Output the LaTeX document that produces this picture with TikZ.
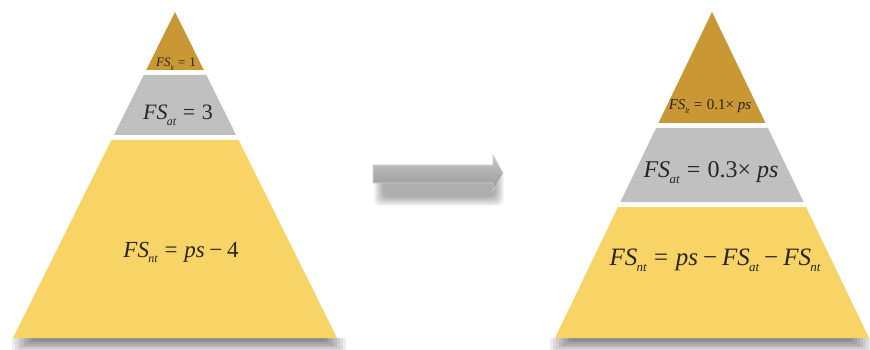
\documentclass[tikz,border=0pt]{standalone}
\usepackage{fontspec}
\setmainfont{Liberation Serif}
\definecolor{goldtop}{RGB}{201,151,52}
\definecolor{grayband}{RGB}{192,192,192}
\definecolor{yelband}{RGB}{248,212,102}
\definecolor{arrowgray}{RGB}{152,152,152}
\newcommand\FSs[2]{\textit{FS}\kern-0.03em\raisebox{-0.55ex}{\fontsize{#1}{#1}\selectfont\itshape #2}}
\newcommand\sz[1]{\fontsize{#1}{#1}\selectfont}
\newcommand\eqs{\hspace{0.3em}=\hspace{0.3em}}
\newcommand\mns{\hspace{0.2em}−\hspace{0.2em}}
\tikzset{
  eq/.style={inner sep=0pt, anchor=base, text=black!85},
  blur/.style={fill=black, opacity=0.07},
}
\begin{document}
\begin{tikzpicture}[x=1pt,y=-1pt]
\useasboundingbox (0,0) rectangle (870,350);
\fill[white] (0,0) rectangle (870,350);
% ---- base shadows (layered blur)
\foreach \i in {0,...,7} {
  \fill[blur] (12+3*\i,338) rectangle (346-3*\i,352-1.6*\i);
  \fill[blur] (550+3*\i,338) rectangle (872-3*\i,352-1.6*\i);
}
% ---- left pyramid (apex 175,12; base y=338 halfwidth 162)
\fill[goldtop] (175,12) -- (175+28.8,70) -- (175-28.8,70) -- cycle;
\fill[grayband] (175-31.3,75) -- (175+31.3,75) -- (175+61.1,135) -- (175-61.1,135) -- cycle;
\fill[yelband] (175-63.6,140) -- (175+63.6,140) -- (175+162,338) -- (175-162,338) -- cycle;
\node[eq] (l1) at (176,67) {\sz{13}\FSs{7}{lt}\eqs 1};
\node[eq] (l2) at (178,120) {\sz{22}\FSs{12}{at}\eqs 3};
\node[eq] (l3) at (181,257) {\sz{23}\FSs{12}{nt}\eqs\textit{ps}\mns 4};
% ---- arrow with blurred shadow
\foreach \i in {0,...,9} {
  \fill[blur, opacity=0.035, rounded corners=6] (374+\i,168+\i) rectangle (504-\i,206-\i);
}
\shade[top color=black!22, bottom color=arrowgray, draw=black!18, line width=0.6pt]
  (373,165) -- (493,165) -- (493,155) -- (503,173) -- (493,191) -- (493,183) -- (373,183) -- cycle;
\node[inner sep=0pt] (arr) at (438,174) {};
% ---- right pyramid (apex 712,12; base y=338 halfwidth 157)
\fill[goldtop] (712,12) -- (712+53.5,123) -- (712-53.5,123) -- cycle;
\fill[grayband] (712-55.9,128) -- (712+55.9,128) -- (712+91.6,202) -- (712-91.6,202) -- cycle;
\fill[yelband] (712-94.0,207) -- (712+94.0,207) -- (712+157,338) -- (712-157,338) -- cycle;
\node[eq] (r1) at (710,110) {\sz{15}\FSs{8}{lt}\eqs 0.1× \textit{ps}};
\node[eq] (r2) at (711,177) {\sz{24}\FSs{13}{at}\eqs 0.3× \textit{ps}};
\node[eq] (r3) at (715,265) {\sz{25}\FSs{13}{nt}\eqs\textit{ps}\mns\FSs{13}{at}\mns\FSs{13}{nt}};
\end{tikzpicture}
\end{document}
